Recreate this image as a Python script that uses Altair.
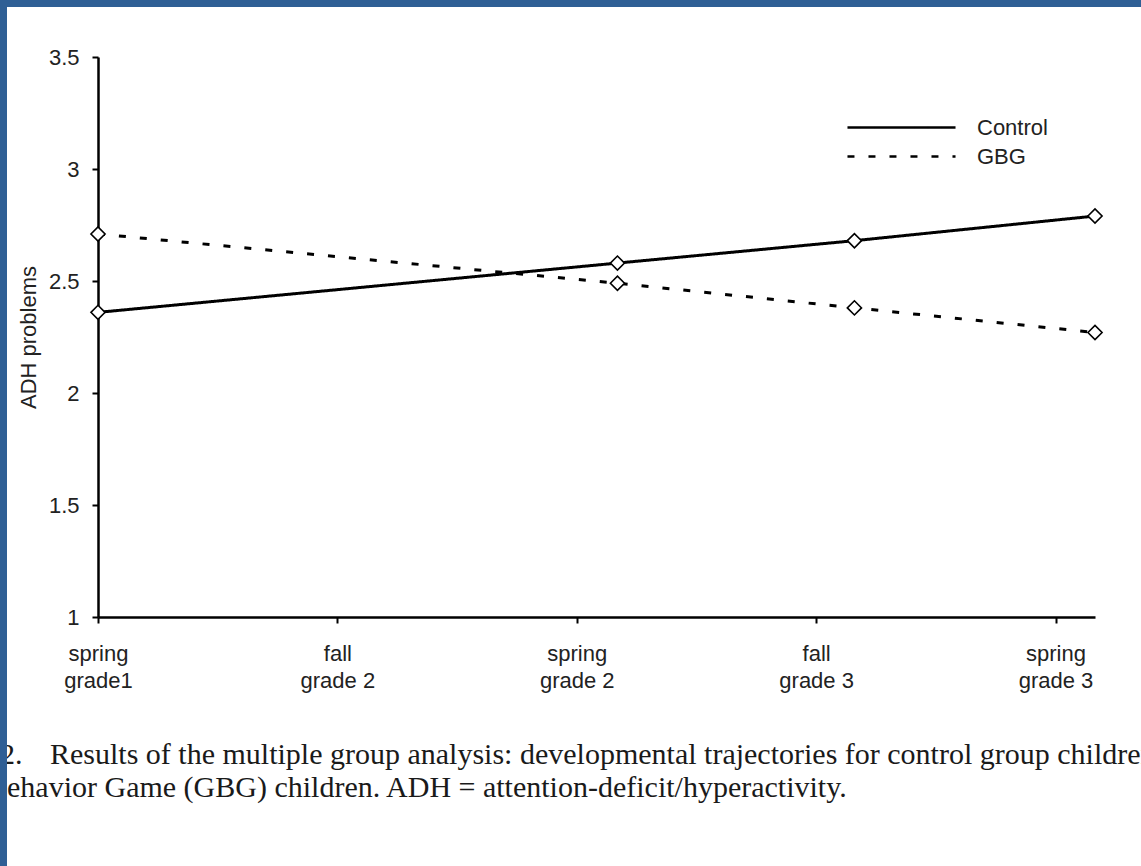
import json
import altair as alt
import pandas as pd

# ---- data ----
groups = ["Control", "GBG"]
time_pos = [0, 2.17, 3.16, 4.165]          # measurement occasions on the time axis
control_vals = [2.36, 2.58, 2.68, 2.79]
gbg_vals = [2.71, 2.49, 2.38, 2.27]

x_tick_values = [0, 1, 2, 3, 4]
x_tick_labels = [["spring", "grade1"], ["fall", "grade 2"], ["spring", "grade 2"],
                 ["fall", "grade 3"], ["spring", "grade 3"]]
y_tick_values = [1, 1.5, 2, 2.5, 3, 3.5]
y_title = "ADH problems"

caption_num = "2."
caption_line1 = "Results of the multiple group analysis: developmental trajectories for control group children"
caption_line2 = "Behavior Game (GBG) children. ADH = attention-deficit/hyperactivity."

rows = []
for g, vals in zip(groups, [control_vals, gbg_vals]):
    for t, v in zip(time_pos, vals):
        rows.append({"group": g, "t": t, "value": v})
df = pd.DataFrame(rows)

SANS = "Liberation Sans"
SERIF = "Liberation Serif"
TXT = "#222222"
BLUE = "#2f5f95"
FS = 22

x_enc = alt.X(
    "t:Q",
    scale=alt.Scale(domain=[0, 4.165], nice=False, zero=False),
    axis=alt.Axis(
        values=x_tick_values,
        labelExpr=f"{json.dumps(x_tick_labels)}[datum.value]",
        title=None, grid=False,
        domainColor="black", domainWidth=2.5,
        tickColor="black", tickSize=6, tickWidth=2,
        labelFont=SANS, labelFontSize=FS, labelColor=TXT,
        labelPadding=20, labelLineHeight=27, labelFlush=False,
    ),
)
y_enc = alt.Y(
    "value:Q",
    scale=alt.Scale(domain=[1, 3.5], nice=False, zero=False),
    axis=alt.Axis(
        values=y_tick_values, format="~g",
        title=y_title, titleFont=SANS, titleFontSize=FS, titleFontWeight="normal",
        titleColor=TXT, titlePadding=8,
        grid=False,
        domainColor="black", domainWidth=2.5,
        tickColor="black", tickSize=6, tickWidth=2,
        labelFont=SANS, labelFontSize=FS, labelColor=TXT, labelPadding=13,
        labelFlush=False,
    ),
)

lines = alt.Chart(df).mark_line(color="black", strokeWidth=3).encode(
    x=x_enc,
    y=y_enc,
    strokeDash=alt.StrokeDash(
        "group:N",
        scale=alt.Scale(domain=groups, range=[[1, 0], [7, 14]]),
        legend=alt.Legend(
            title=None, orient="none", legendX=791, legendY=58,
            symbolType="M-5,0H5", symbolSize=467, symbolStrokeWidth=2.5,
            symbolStrokeColor="black", symbolFillColor="transparent",
            labelFont=SANS, labelFontSize=FS, labelColor=TXT,
            labelOffset=63, rowPadding=5,
        ),
    ),
)

points = alt.Chart(df).mark_point(
    shape="diamond", filled=True, fill="white", stroke="black",
    strokeWidth=1.6, size=200, opacity=1,
).encode(x="t:Q", y="value:Q", detail="group:N")

frame = pd.DataFrame({"k": [0]})


def caption_text(txt, x, y):
    return alt.Chart(frame).mark_text(
        align="left", baseline="alphabetic", font=SERIF, fontSize=30, color="#1a1a1a"
    ).encode(x=alt.value(x), y=alt.value(y), text=alt.value(txt))


cap_num = caption_text(caption_num, -98, 707)
cap1 = caption_text(caption_line1, -48, 707)
cap2 = caption_text(caption_line2, -111, 740)

left_bar = alt.Chart(frame).mark_rect(color=BLUE).encode(
    x=alt.value(-98), x2=alt.value(-91), y=alt.value(-57), y2=alt.value(809)
)
top_bar = alt.Chart(frame).mark_rect(color=BLUE).encode(
    x=alt.value(-98), x2=alt.value(1043), y=alt.value(-57), y2=alt.value(-50)
)

chart = alt.layer(lines, points, cap_num, cap1, cap2, left_bar, top_bar).properties(
    width=997, height=560,
    padding={"left": 98, "top": 57, "right": 46, "bottom": 249},
    autosize=alt.AutoSizeParams(type="none"),
    background="white",
).configure_view(stroke=None)

chart.save("out.html", embed_options={"renderer": "svg", "actions": False})
